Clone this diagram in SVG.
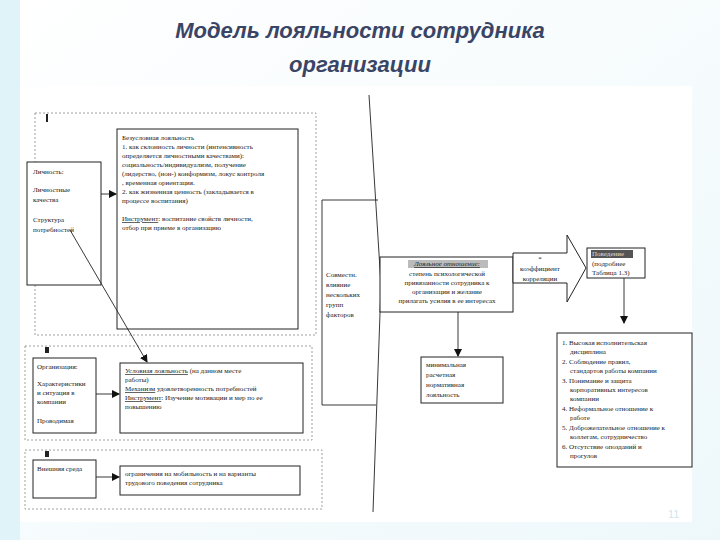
<svg xmlns="http://www.w3.org/2000/svg" width="720" height="540" viewBox="0 0 720 540">
<defs>
<marker id="ah" markerWidth="8" markerHeight="8" refX="7" refY="4" orient="auto" markerUnits="userSpaceOnUse"><path d="M0,0 L8,4 L0,8 z" fill="#111"/></marker>
<linearGradient id="bg" x1="0" y1="0" x2="1" y2="1"><stop offset="0" stop-color="#ffffff"/><stop offset="1" stop-color="#eef8fb"/></linearGradient>
</defs>
<style>
.t{font-family:"Liberation Serif",serif;font-size:7px;fill:#222}
.tc{font-family:"Liberation Serif",serif;font-size:7px;fill:#222;text-anchor:middle}
.b{fill:#fff;stroke:#222;stroke-width:1}
.d{fill:none;stroke:#888;stroke-width:0.8;stroke-dasharray:2,2}
.c{fill:none;stroke:#222;stroke-width:0.9}
.title{font-family:"Liberation Sans",Arial,sans-serif;font-size:22px;font-style:italic;font-weight:bold;fill:#3a4566;text-anchor:middle}
</style>
<rect width="720" height="540" fill="url(#bg)"/>
<rect x="0" y="0" width="20" height="540" fill="#dff3f8"/>
<text class="title" x="360" y="38">Модель лояльности сотрудника</text>
<text class="title" x="360" y="72">организации</text>
<rect x="20" y="86" width="672" height="436" fill="#fff"/>

<g id="group-I">
<rect class="d" x="35" y="113" width="281" height="222"/>
<rect x="46" y="114" width="2" height="8" fill="#222"/>
</g>
<g id="group-II">
<rect class="d" x="25" y="346" width="287" height="94"/>
<rect x="45" y="347" width="4" height="6" fill="#222"/>
</g>
<g id="group-III">
<rect class="d" x="25" y="450" width="297" height="59"/>
<rect x="45" y="451" width="4" height="6" fill="#222"/>
</g>

<g id="lichnost">
<rect class="b" x="27" y="162" width="74" height="123"/>
<text class="t" x="33" y="174">Личность:</text>
<text class="t" x="33" y="192">Личностные</text>
<text class="t" x="33" y="202">качества</text>
<text class="t" x="33" y="222">Структура</text>
<text class="t" x="33" y="232">потребностей</text>
</g>
<g id="bezuslovnaya">
<rect class="b" x="117" y="129" width="181" height="200"/>
<text class="t" x="122" y="140">Безусловная лояльность</text>
<text class="t" x="122" y="149">1. как склонность личности (интенсивность</text>
<text class="t" x="122" y="158">определяется личностными качествами):</text>
<text class="t" x="122" y="167">социальность/индивидуализм, получение</text>
<text class="t" x="122" y="176">(лидерство, (нон-) конформизм,  локус контроля</text>
<text class="t" x="122" y="185">,  временная  ориентация.</text>
<text class="t" x="122" y="194">2. как жизненная ценность (закладывается в</text>
<text class="t" x="122" y="203">процессе воспитания)</text>
<text class="t" x="122" y="221"><tspan text-decoration="underline">Инструмент</tspan>: воспитание свойств личности,</text>
<text class="t" x="122" y="230">отбор при приеме в организацию</text>
</g>
<g id="organizaciya">
<rect class="b" x="33" y="358" width="63" height="75"/>
<text class="t" x="37" y="369">Организация:</text>
<text class="t" x="37" y="386">Характеристики</text>
<text class="t" x="37" y="395">и ситуация в</text>
<text class="t" x="37" y="404">компании</text>
<text class="t" x="37" y="423">Проводимая</text>
</g>
<g id="uslovnaya">
<rect class="b" x="120" y="363" width="183" height="70"/>
<text class="t" x="125" y="373"><tspan text-decoration="underline">Условная лояльность</tspan> (на данном месте</text>
<text class="t" x="125" y="382">работы)</text>
<text class="t" x="125" y="391"><tspan text-decoration="underline">Механизм</tspan>  удовлетворенность потребностей</text>
<text class="t" x="125" y="400"><tspan text-decoration="underline">Инструмент</tspan>: Изучение мотивации и мер по ее</text>
<text class="t" x="125" y="409">повышению</text>
</g>
<g id="vneshnyaya">
<rect class="b" x="33" y="460" width="63" height="38"/>
<text class="t" x="37" y="471">Внешняя среда</text>
</g>
<g id="ogranicheniya">
<rect class="b" x="120" y="466" width="180" height="29"/>
<text class="t" x="125" y="476">ограничения на мобильность и  на варианты</text>
<text class="t" x="125" y="485">трудового поведения сотрудника</text>
</g>
<g id="sovmestn">
<path class="c" d="M378,200 L322,200 L322,405 L376,405"/>
<path class="c" d="M369,95 L381,285 L373,512"/>
<text class="t" x="326" y="277">Совместн.</text>
<text class="t" x="326" y="287">влияние</text>
<text class="t" x="326" y="297">нескольких</text>
<text class="t" x="326" y="307">групп</text>
<text class="t" x="326" y="317">факторов</text>
</g>
<g id="loyalnoe">
<rect class="b" x="380" y="257" width="133" height="55"/>
<rect x="408" y="260" width="80" height="8" fill="#bbb"/>
<text class="tc" x="447" y="266" font-style="italic" text-decoration="underline">Лояльное отношение:</text>
<text class="tc" x="447" y="276">степень психологической</text>
<text class="tc" x="447" y="285">привязанности сотрудника к</text>
<text class="tc" x="447" y="294">организации и желание</text>
<text class="tc" x="447" y="303">прилагать усилия в ее интересах</text>
</g>
<g id="korrelyaciya">
<path class="b" d="M513,253 L567,253 L567,235 L586,268 L567,302 L567,283 L513,283 z"/>
<text class="tc" x="540" y="261">*</text>
<text class="tc" x="540" y="271">коэффициент</text>
<text class="tc" x="540" y="281">корреляции</text>
</g>
<g id="povedenie">
<rect class="b" x="587" y="248" width="58" height="30"/>
<rect x="591" y="250" width="42" height="8" fill="#555"/>
<text class="t" x="592" y="256" fill="#ddd" style="fill:#ddd">Поведение</text>
<text class="t" x="592" y="266">(подробнее</text>
<text class="t" x="592" y="275">Таблица 1.3)</text>
</g>
<g id="minimalnaya">
<rect class="b" x="421" y="357" width="82" height="46"/>
<text class="t" x="426" y="367">минимальная</text>
<text class="t" x="426" y="377">расчетная</text>
<text class="t" x="426" y="387">нормативная</text>
<text class="t" x="426" y="397">лояльность</text>
</g>
<g id="spisok">
<rect class="b" x="557" y="333" width="135" height="134"/>
<text class="t" x="562" y="345">1. Высокая исполнительская</text>
<text class="t" x="570" y="354">дисциплина</text>
<text class="t" x="562" y="364">2. Соблюдение правил,</text>
<text class="t" x="570" y="373">стандартов работы компании</text>
<text class="t" x="562" y="383">3. Понимание и защита</text>
<text class="t" x="570" y="392">корпоративных интересов</text>
<text class="t" x="570" y="401">компании</text>
<text class="t" x="562" y="411">4. Неформальное отношение к</text>
<text class="t" x="570" y="420">работе</text>
<text class="t" x="562" y="430">5. Доброжелательное отношение к</text>
<text class="t" x="570" y="439">коллегам, сотрудничество</text>
<text class="t" x="562" y="449">6. Отсутствие опозданий и</text>
<text class="t" x="570" y="458">прогулов</text>
</g>
<g id="connectors">
<line class="c" x1="101" y1="194" x2="116" y2="194" marker-end="url(#ah)"/>
<line class="c" x1="70" y1="230" x2="147" y2="362" marker-end="url(#ah)"/>
<line class="c" x1="96" y1="394" x2="119" y2="394" marker-end="url(#ah)"/>
<line class="c" x1="96" y1="477" x2="119" y2="477" marker-end="url(#ah)"/>
<line class="c" x1="458" y1="312" x2="458" y2="356" marker-end="url(#ah)"/>
<line class="c" x1="624" y1="278" x2="624" y2="323" marker-end="url(#ah)"/>
</g>
<text x="668" y="518" font-family="Liberation Sans,sans-serif" font-size="11" fill="#cfe6ee">11</text>
</svg>
